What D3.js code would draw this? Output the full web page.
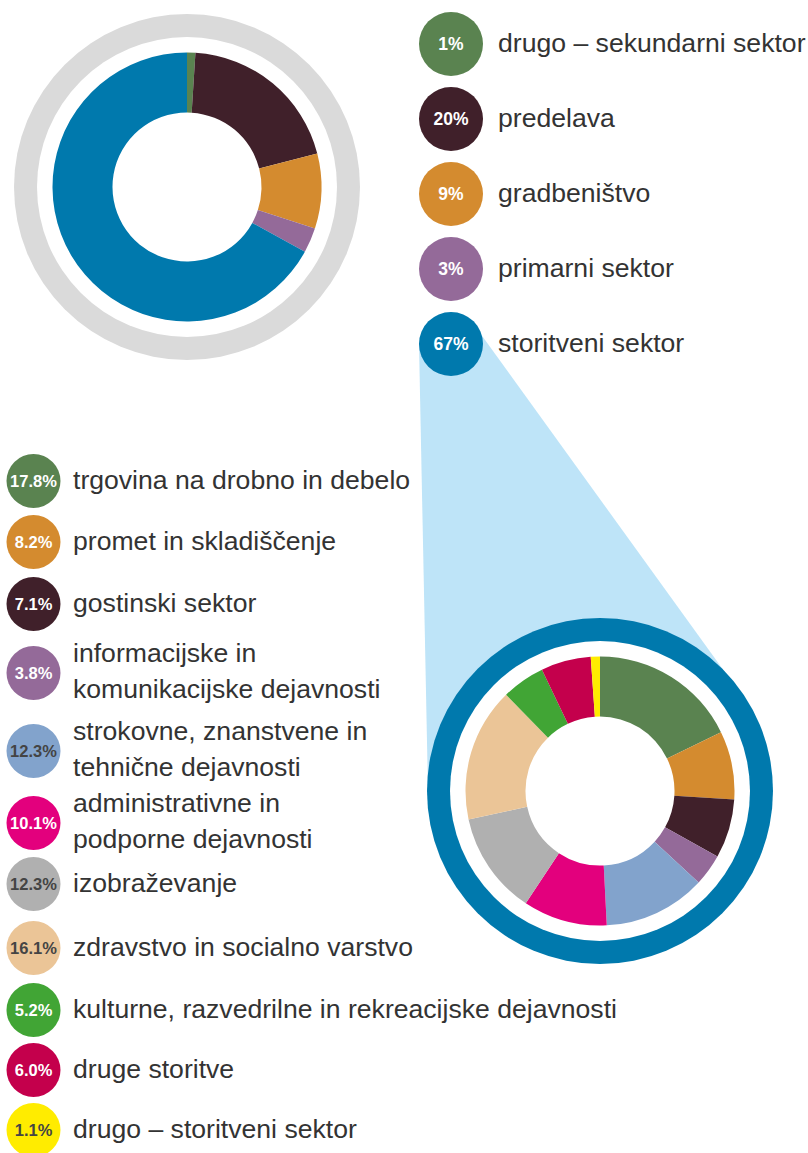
<!DOCTYPE html>
<html>
<head>
<meta charset="utf-8">
<script src="https://cdn.jsdelivr.net/npm/d3@7"></script>
<style>
  body { margin: 0; background: #fff; }
  svg text { font-family: "Liberation Sans", Arial, Helvetica, sans-serif; }
</style>
</head>
<body>
<div id="container"></div>
<script>
// economy by sector (top donut)
const sectorNames = ["drugo – sekundarni sektor", "predelava", "gradbeništvo", "primarni sektor", "storitveni sektor"];
const sectorValues = [1, 20, 9, 3, 67];

// breakdown of the service sector (bottom donut)
const serviceNames = [
  ["trgovina na drobno in debelo"],
  ["promet in skladiščenje"],
  ["gostinski sektor"],
  ["informacijske in", "komunikacijske dejavnosti"],
  ["strokovne, znanstvene in", "tehnične dejavnosti"],
  ["administrativne in", "podporne dejavnosti"],
  ["izobraževanje"],
  ["zdravstvo in socialno varstvo"],
  ["kulturne, razvedrilne in rekreacijske dejavnosti"],
  ["druge storitve"],
  ["drugo – storitveni sektor"]
];
const serviceValues = [17.8, 8.2, 7.1, 3.8, 12.3, 10.1, 12.3, 16.1, 5.2, 6.0, 1.1];

// palettes
const sectorColors = ["#5a8350", "#40202a", "#d48b2f", "#946a99", "#0079ad"];
const serviceColors = ["#5a8350", "#d48b2f", "#40202a", "#946a99", "#82a3cc", "#e3007d",
  "#b0b0b0", "#ebc597", "#41a535", "#c4004c", "#ffec00"];
const serviceTextColors = ["#fff", "#fff", "#fff", "#fff", "#444", "#fff",
  "#444", "#444", "#fff", "#fff", "#444"];

function init() {
  const width = 808;
  const height = 1153;
  const textColor = "#333";
  const labelSize = 26.6;

  const svg = d3.select("#container")
    .append("svg")
    .attr("width", width)
    .attr("height", height);

  const topCenter = [187, 187];
  const bottomCenter = [600, 791];
  const ringOuter = 173;
  const ringInner = 150;

  const pie = d3.pie().sort(null).value(d => d);
  const arc = d3.arc().innerRadius(74.5).outerRadius(134.5);

  // top legend rows
  const topY = d3.scalePoint().domain(sectorNames).range([44, 344]);
  const topX = 451;
  const topR = 32;

  // bottom legend rows (two-line labels need more room)
  const bottomRows = [481, 542, 604, 673, 751, 823, 884, 948, 1010, 1070, 1130];
  const bottomX = 33.5;
  const bottomR = 27;

  // light blue "zoom" wedge from the service sector dot to the second donut
  const c1 = [topX, topY(sectorNames[4])];
  const wedge = [
    [c1[0] - topR, c1[1]],
    [c1[0] + 29, c1[1] - 11],
    [bottomCenter[0] + 145, bottomCenter[1] - 91],
    bottomCenter,
    [bottomCenter[0] - ringOuter + 1, bottomCenter[1]]
  ];
  svg.append("path")
    .attr("d", d3.line()(wedge) + "Z")
    .attr("fill", "#bee4f8");

  // top donut
  const top = svg.append("g").attr("transform", `translate(${topCenter})`);
  top.append("circle").attr("r", ringOuter).attr("fill", "#dadada");
  top.append("circle").attr("r", ringInner).attr("fill", "#fff");
  top.selectAll("path")
    .data(pie(sectorValues))
    .join("path")
    .attr("d", arc)
    .attr("fill", (d, i) => sectorColors[i]);

  // top legend
  const topLegend = svg.append("g")
    .selectAll("g")
    .data(sectorNames)
    .join("g")
    .attr("transform", d => `translate(${topX},${topY(d)})`);
  topLegend.append("circle")
    .attr("r", topR)
    .attr("fill", (d, i) => sectorColors[i]);
  topLegend.append("text")
    .attr("text-anchor", "middle")
    .attr("dy", "0.36em")
    .attr("fill", "#fff")
    .attr("font-weight", "bold")
    .attr("font-size", 17.5)
    .text((d, i) => sectorValues[i] + "%");
  topLegend.append("text")
    .attr("x", 498 - topX)
    .attr("y", 8)
    .attr("fill", textColor)
    .attr("font-size", labelSize)
    .text(d => d);

  // bottom donut
  const bottom = svg.append("g").attr("transform", `translate(${bottomCenter})`);
  bottom.append("circle").attr("r", ringOuter).attr("fill", sectorColors[4]);
  bottom.append("circle").attr("r", ringInner).attr("fill", "#fff");
  bottom.selectAll("path")
    .data(pie(serviceValues))
    .join("path")
    .attr("d", arc)
    .attr("fill", (d, i) => serviceColors[i]);

  // bottom legend
  const bottomLegend = svg.append("g")
    .selectAll("g")
    .data(serviceNames)
    .join("g")
    .attr("transform", (d, i) => `translate(${bottomX},${bottomRows[i]})`);
  bottomLegend.append("circle")
    .attr("r", bottomR)
    .attr("fill", (d, i) => serviceColors[i]);
  bottomLegend.append("text")
    .attr("text-anchor", "middle")
    .attr("dy", "0.36em")
    .attr("fill", (d, i) => serviceTextColors[i])
    .attr("font-weight", "bold")
    .attr("font-size", 16.5)
    .text((d, i) => serviceValues[i].toFixed(1) + "%");
  bottomLegend.append("text")
    .attr("fill", textColor)
    .attr("font-size", labelSize)
    .selectAll("tspan")
    .data(d => d.map((line, j) => ({ line, j, n: d.length })))
    .join("tspan")
    .attr("x", 73 - bottomX)
    .attr("y", d => d.n === 1 ? 8 : 7 + (d.j - 0.5) * 36.6)
    .text(d => d.line);
}

document.addEventListener("DOMContentLoaded", init);
</script>
</body>
</html>
